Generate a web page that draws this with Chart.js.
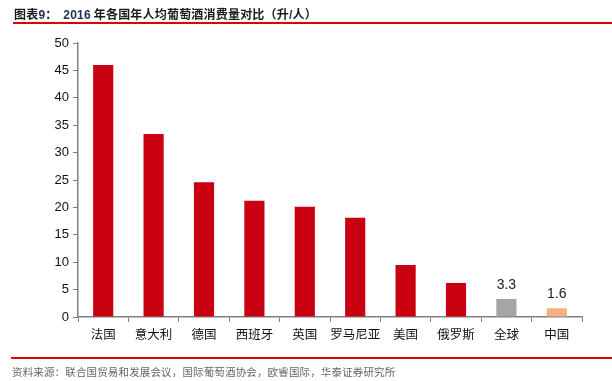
<!DOCTYPE html>
<html><head><meta charset="utf-8">
<script src="https://cdn.jsdelivr.net/npm/chart.js@4"></script>
<style>
html,body{margin:0;padding:0;background:#fff;width:612px;height:381px;overflow:hidden;}
#wrap{position:absolute;left:0;top:0;width:612px;height:381px;}
#title{position:absolute;left:14px;top:5px;font-family:"Noto Sans CJK SC","Liberation Sans",sans-serif;font-weight:bold;font-size:12px;color:#1a1a1a;white-space:nowrap;letter-spacing:0.2px;}
#title .num{font-family:"Liberation Sans",Arial,sans-serif;color:#1f2d5a;}
#line1{position:absolute;left:13px;top:22px;width:599px;height:2px;background:#e00000;}
#line2{position:absolute;left:11px;top:357px;width:601px;height:2px;background:#e00000;}
#foot{position:absolute;left:12px;top:364px;font-family:"Noto Sans CJK SC",sans-serif;font-size:10.5px;color:#666;white-space:nowrap;letter-spacing:0.15px;}
</style></head>
<body>
<div id="wrap"><canvas id="c" width="612" height="381"></canvas></div>
<div id="title">图表<span class="num">9</span>：&nbsp;&nbsp;<span class="num">2016</span> 年各国年人均葡萄酒消费量对比（升<span class="num">/</span>人）</div>
<div id="line1"></div>
<div id="line2"></div>
<div id="foot">资料来源：联合国贸易和发展会议，国际葡萄酒协会，欧睿国际，华泰证券研究所</div>
<script>
const categories = ["法国","意大利","德国","西班牙","英国","罗马尼亚","美国","俄罗斯","全球","中国"];
const values = [46.0, 33.4, 24.6, 21.2, 20.1, 18.1, 9.5, 6.2, 3.3, 1.6];
const labeledCategories = ["全球","中国"];
const yTicks = [0,5,10,15,20,25,30,35,40,45,50];
const barColors = categories.map(c => c === "全球" ? "#a5a5a5" : (c === "中国" ? "#f4b183" : "#c8000f"));

const labelPlugin = {
  id:'vals',
  afterDatasetsDraw(chart){
    const ctx = chart.ctx;
    const meta = chart.getDatasetMeta(0);
    ctx.save();
    ctx.font = '14px "Liberation Sans", Arial, sans-serif';
    ctx.fillStyle = '#222';
    ctx.textAlign = 'center';
    ctx.textBaseline = 'bottom';
    meta.data.forEach((bar,i)=>{
      if(labeledCategories.includes(categories[i])){
        ctx.fillText(values[i].toFixed(1), bar.x, bar.y - 7);
      }
    });
    ctx.restore();
  }
};

new Chart(document.getElementById('c'),{
  type:'bar',
  data:{labels:categories,datasets:[{data:values,backgroundColor:barColors,borderWidth:0,barPercentage:0.8,categoryPercentage:0.5}]},
  options:{
    responsive:false,animation:false,
    layout:{padding:{left:0,right:30,top:43,bottom:34}},
    plugins:{legend:{display:false},tooltip:{enabled:false}},
    scales:{
      x:{
        grid:{display:true,drawOnChartArea:false,drawTicks:true,tickLength:5,color:'#808080',offset:true},
        border:{color:'#808080',width:1.5},
        ticks:{font:{family:'"Noto Sans CJK SC", sans-serif',size:12.5},color:'#111',padding:5,maxRotation:0,autoSkip:false},
        afterFit(s){s.height=30;}
      },
      y:{
        min:0,max:50,
        afterBuildTicks(s){s.ticks = yTicks.map(v=>({value:v}));},
        grid:{display:true,drawOnChartArea:false,drawTicks:true,tickLength:5,color:'#808080'},
        border:{color:'#808080',width:1.5},
        ticks:{font:{family:'"Liberation Sans", Arial, sans-serif',size:13},color:'#111',padding:4},
        afterFit(s){s.width=78;}
      }
    }
  },
  plugins:[labelPlugin]
});
</script>
</body></html>
